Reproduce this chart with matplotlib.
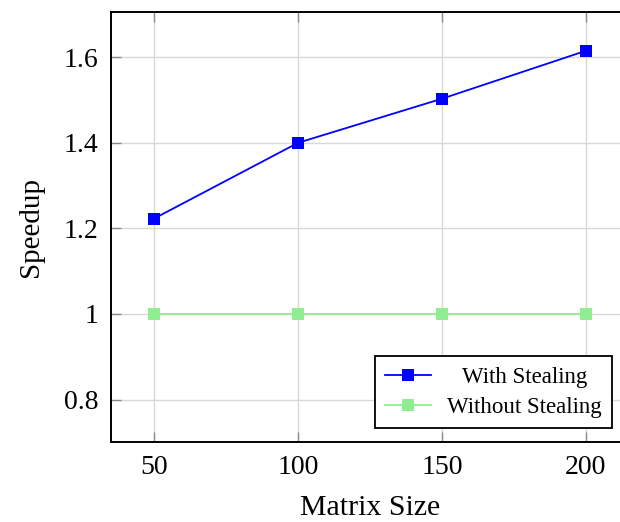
import numpy as np
import matplotlib
matplotlib.use('Agg')
import matplotlib.pyplot as plt
from matplotlib.ticker import FuncFormatter
from matplotlib.transforms import Affine2D

plt.rcParams['font.family'] = ['Liberation Serif', 'DejaVu Serif']

# data
matrix_size = [50, 100, 150, 200]
with_stealing = [1.223, 1.400, 1.503, 1.615]
without_stealing = [1.0, 1.0, 1.0, 1.0]
xticks = [50, 100, 150, 200]
yticks = [0.8, 1.0, 1.2, 1.4, 1.6]

fig = plt.figure(figsize=(6.2, 5.22), dpi=100)
# axes runs a little past the right edge, as in the cropped original
ax = fig.add_axes([111/620, 1 - 442.3/522, 518/620, 430/522])

ax.plot(matrix_size, with_stealing, color='#0000ff', lw=1.3, marker='s',
        markersize=8.6, markeredgewidth=0, label='With Stealing', zorder=3)
ax.plot(matrix_size, without_stealing, color='#90ee90', lw=1.3, marker='s',
        markersize=8.6, markeredgewidth=0, label='Without Stealing', zorder=3)

ax.set_xlim(35, 215)
ax.set_ylim(0.7, 1.705)
ax.set_xticks(xticks)
ax.set_yticks(yticks)
ax.yaxis.set_major_formatter(FuncFormatter(lambda v, p: '{:g}'.format(round(v, 2))))

ax.grid(True, color='#d8d8d8', lw=1.0, zorder=0)
ax.tick_params(direction='in', length=7, width=1.0, color='#8c8c8c',
               top=True, right=False, labelsize=20, pad=9)
for s in ax.spines.values():
    s.set_linewidth(1.4)
    s.set_color('black')
ax.spines['right'].set_visible(False)

ax.set_xlabel('Matrix Size', fontsize=21.5, labelpad=11)
ax.set_ylabel('Speedup', fontsize=21, labelpad=14)

leg = ax.legend(loc='lower right', bbox_to_anchor=(0.967, 0.033), borderaxespad=0,
                fontsize=16.5, fancybox=False, edgecolor='black', framealpha=1,
                handlelength=2.0, labelspacing=0.4, borderpad=0.45, handletextpad=0.7)
leg.get_frame().set_linewidth(1.3)

# centre the legend labels like pgfplots does
fig.canvas.draw()
r = fig.canvas.get_renderer()
texts = leg.get_texts()
widths = [t.get_window_extent(r).width for t in texts]
wmax = max(widths)
for t, w in zip(texts, widths):
    t.set_transform(t.get_transform() + Affine2D().translate((wmax - w) / 2, 0))

fig.savefig('out.png', dpi=100)
